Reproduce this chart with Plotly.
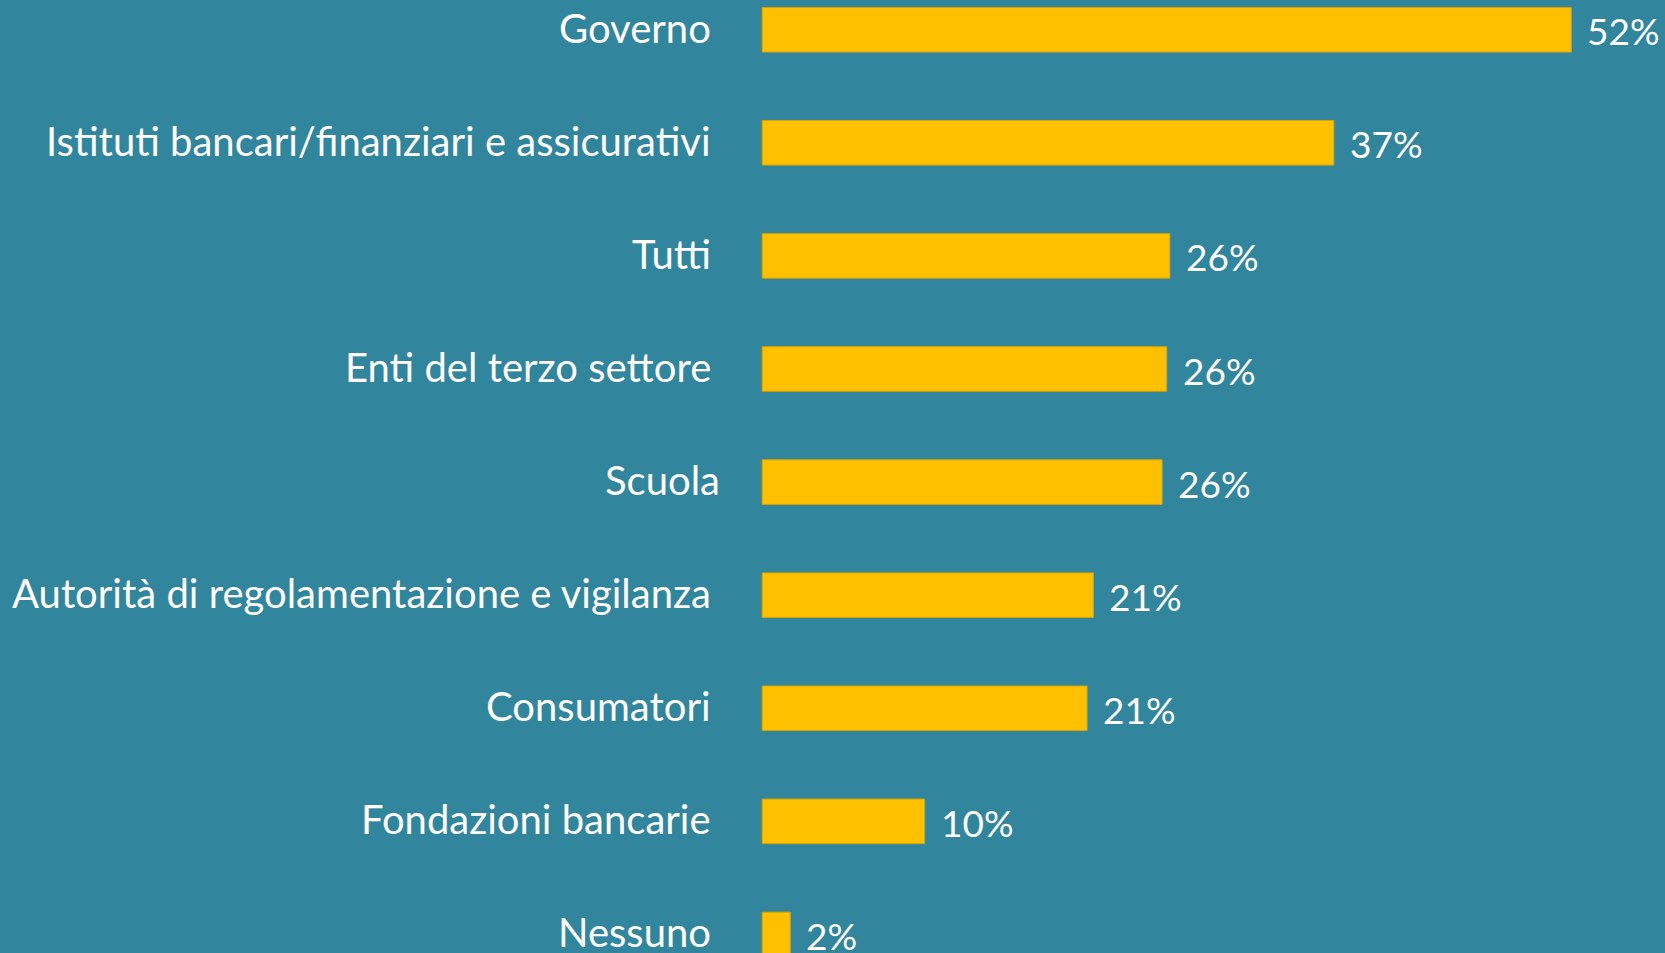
import plotly.graph_objects as go

categories = [
    "Governo",
    "Istituti bancari/finanziari e assicurativi",
    "Tutti",
    "Enti del terzo settore",
    "Scuola",
    "Autorità di regolamentazione e vigilanza",
    "Consumatori",
    "Fondazioni bancarie",
    "Nessuno",
]
values = [51.8, 36.6, 26.1, 25.9, 25.6, 21.2, 20.8, 10.4, 1.8]

BG = "#31859C"
BAR = "#FFC000"
FONT = "Lato"

fig = go.Figure()
fig.add_trace(go.Bar(
    y=categories,
    x=values,
    orientation="h",
    marker=dict(color=BAR, line=dict(color="#D9A300", width=1)),
    width=0.394,
    hoverinfo="skip",
))

for c, v in zip(categories, values):
    fig.add_annotation(
        x=v, y=c, xref="x", yref="y",
        text=f"{v:.0f}%", showarrow=False,
        xanchor="left", yanchor="middle", xshift=14, yshift=-1,
        font=dict(family=FONT, size=37, color="white"),
    )
    fig.add_annotation(
        x=0, y=c, xref="x", yref="y",
        text=c, showarrow=False,
        xanchor="right", yanchor="middle",
        xshift=(-40 if c == "Scuola" else -49), yshift=2,
        font=dict(family=FONT, size=40, color="white"),
    )

fig.update_layout(
    width=1665, height=953,
    margin=dict(l=0, r=0, t=0, b=0),
    paper_bgcolor=BG, plot_bgcolor=BG,
    showlegend=False,
    xaxis=dict(range=[-48.8, 57.8], visible=False, fixedrange=True),
    yaxis=dict(range=[8.164, -0.263], visible=False, type="category",
               categoryorder="array", categoryarray=categories, fixedrange=True),
)

fig.write_html("out.html", config={"displayModeBar": False},
               post_script="document.body.style.margin='0';document.body.style.background='%s';" % BG)
